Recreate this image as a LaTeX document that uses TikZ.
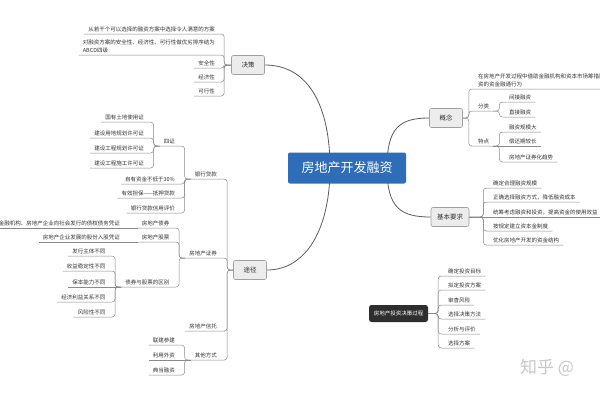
\documentclass[tikz,border=0pt]{standalone}
\usepackage{fontspec}
\newfontfamily\cjk{Noto Sans CJK SC}
\usepackage{tikz}
\usetikzlibrary{backgrounds}
\definecolor{mapBlue}{HTML}{2F6DB8}
\definecolor{mapFill}{HTML}{ECECEC}
\definecolor{mapEdge}{HTML}{A0A0A0}
\definecolor{mapLink}{HTML}{8A8A8A}
\definecolor{mapCurve}{HTML}{5C5C5C}
\definecolor{mapText}{HTML}{333333}
\definecolor{mapDark}{HTML}{2E2E2E}
\definecolor{mapMark}{HTML}{C8C8C8}

\begin{document}
\begin{tikzpicture}[
  x=1pt, y=-1pt,
  font=\cjk,
  leaf/.style={
    text=mapText,
    font=\cjk\fontsize{5.5}{7.5}\selectfont,
    align=left,
    inner xsep=4pt,
    inner ysep=2pt
  },
  lleaf/.style={leaf, anchor=south east},
  rleaf/.style={leaf, anchor=south west},
  topic/.style={
    draw=mapEdge,
    fill=mapFill,
    rounded corners=2pt,
    line width=0.6pt,
    text=mapText,
    font=\cjk\fontsize{6.5}{8}\selectfont,
    inner xsep=6pt,
    minimum width=33pt,
    minimum height=19pt
  },
  central/.style={
    fill=mapBlue,
    rounded corners=2pt,
    text=white,
    font=\cjk\fontsize{13}{15}\selectfont,
    minimum width=118pt,
    minimum height=31pt
  },
  darktopic/.style={
    fill=mapDark,
    rounded corners=2.5pt,
    text=white,
    font=\cjk\fontsize{5.5}{7}\selectfont,
    minimum width=59pt,
    minimum height=17pt
  },
  link/.style={draw=mapLink, line width=0.5pt, rounded corners=3pt},
  branch/.style={draw=mapCurve, line width=0.8pt},
  watermark/.style={text=mapMark, font=\cjk\fontsize{17}{19}\selectfont, anchor=west, inner sep=0pt}
]
\useasboundingbox (0,0) rectangle (600,400);

% main topics
\node[central] (core) at (347,168) {房地产开发融资};
\node[topic] (decide) at (248,65) {决策};
\node[topic] (route) at (250,270) {途径};
\node[topic] (concept) at (446,118) {概念};
\node[topic] (basics) at (450,217) {基本要求};
\node[darktopic] (process) at (398.5,313.5) {房地产投资决策过程};

% 决策
\node[lleaf] (dec1) at (219,34) {从若干个可以选择的融资方案中选择令人满意的方案};
\node[lleaf] (dec2) at (219,55) {对融资方案的安全性、经济性、可行性做优劣排序结为\\ABCD四级};
\node[lleaf] (dec3) at (219,68) {安全性};
\node[lleaf] (dec4) at (219,82) {经济性};
\node[lleaf] (dec5) at (219,96) {可行性};

% 途径
\node[lleaf] (loan) at (221,179) {银行贷款};
\node[lleaf] (cert) at (179,146) {四证};
\node[lleaf] (cert1) at (148,122) {国有土地使用证};
\node[lleaf] (cert2) at (148,138) {建设用地规划许可证};
\node[lleaf] (cert3) at (148,153) {建设工程规划许可证};
\node[lleaf] (cert4) at (148,168) {建设工程施工许可证};
\node[lleaf] (own) at (179,184) {自有资金不低于30\%};
\node[lleaf] (guar) at (179,198) {有效担保——抵押贷款};
\node[lleaf] (credit) at (179,213) {银行贷款信用评价};
\node[lleaf] (sec) at (221,258) {房地产证券};
\node[lleaf] (bond) at (173.5,228) {房地产债券};
\node[lleaf] (bonddef) at (124,228) {金融机构、房地产企业向社会发行的债权债务凭证};
\node[lleaf] (stock) at (173.5,242) {房地产股票};
\node[lleaf] (stockdef) at (124,242) {房地产企业发展的股份入股凭证};
\node[lleaf] (diff) at (173.5,287) {债券与股票的区别};
\node[lleaf] (diff1) at (109.5,256) {发行主体不同};
\node[lleaf] (diff2) at (109.5,271) {收益稳定性不同};
\node[lleaf] (diff3) at (109.5,287) {保本能力不同};
\node[lleaf] (diff4) at (109.5,302) {经济利益关系不同};
\node[lleaf] (diff5) at (109.5,317) {风险性不同};
\node[lleaf] (trust) at (221,331) {房地产信托};
\node[lleaf] (other) at (221,360) {其他方式};
\node[lleaf] (oth1) at (179,345) {联建参建};
\node[lleaf] (oth2) at (179,360) {利用外资};
\node[lleaf] (oth3) at (179,375) {典当融资};

% 概念
\node[rleaf] (def) at (474,89) {在房地产开发过程中借助金融机构和资本市场筹措融\\资的资金融通行为};
\node[rleaf] (cls) at (474,111) {分类};
\node[rleaf] (cls1) at (505,102) {间接融资};
\node[rleaf] (cls2) at (505,117) {直接融资};
\node[rleaf] (feat) at (474,146) {特点};
\node[rleaf] (feat1) at (505,132) {融资规模大};
\node[rleaf] (feat2) at (505,146) {偿还期较长};
\node[rleaf] (feat3) at (505,162) {房地产证券化趋势};

% 基本要求
\node[rleaf] (req1) at (489,188) {确定合理融资规模};
\node[rleaf] (req2) at (489,202) {正确选择融资方式，降低融资成本};
\node[rleaf] (req3) at (489,217) {统筹考虑融资和投资，提高资金的使用效益};
\node[rleaf] (req4) at (489,231) {按规定建立资本金制度};
\node[rleaf] (req5) at (489,245) {优化房地产开发的资金结构};

% 房地产投资决策过程
\node[rleaf] (proc1) at (444,276) {确定投资目标};
\node[rleaf] (proc2) at (444,290) {拟定投资方案};
\node[rleaf] (proc3) at (444,305) {审查风险};
\node[rleaf] (proc4) at (444,319) {选择决策方法};
\node[rleaf] (proc5) at (444,334) {分析与评价};
\node[rleaf] (proc6) at (444,348) {选择方案};

\node[watermark] (zhihu) at (520,368) {知乎 @};

% connectors
\draw[link] (decide.west) -- ++(-7,0) |- (dec1.south west);
\draw[link] (decide.west) -- ++(-7,0) |- (dec2.south west);
\draw[link] (decide.west) -- ++(-7,0) |- (dec3.south west);
\draw[link] (decide.west) -- ++(-7,0) |- (dec4.south west);
\draw[link] (decide.west) -- ++(-7,0) |- (dec5.south west);

\draw[link] (route.west) -- ++(-6,0) |- (loan.south west);
\draw[link] (route.west) -- ++(-6,0) |- (sec.south west);
\draw[link] (route.west) -- ++(-6,0) |- (trust.south west);
\draw[link] (route.west) -- ++(-6,0) |- (other.south west);

\draw[link] (loan.south west) -- ++(-6,0) |- (cert.south west);
\draw[link] (loan.south west) -- ++(-6,0) |- (own.south west);
\draw[link] (loan.south west) -- ++(-6,0) |- (guar.south west);
\draw[link] (loan.south west) -- ++(-6,0) |- (credit.south west);
\draw[link] (cert.south west) -- ++(-6,0) |- (cert1.south west);
\draw[link] (cert.south west) -- ++(-6,0) |- (cert2.south west);
\draw[link] (cert.south west) -- ++(-6,0) |- (cert3.south west);
\draw[link] (cert.south west) -- ++(-6,0) |- (cert4.south west);

\draw[link] (sec.south west) -- ++(-6,0) |- (bond.south west);
\draw[link] (sec.south west) -- ++(-6,0) |- (stock.south west);
\draw[link] (sec.south west) -- ++(-6,0) |- (diff.south west);
\draw[link] (bond.south west) -- (bonddef.south west);
\draw[link] (stock.south west) -- (stockdef.south west);
\draw[link] (diff.south west) -- ++(-6,0) |- (diff1.south west);
\draw[link] (diff.south west) -- ++(-6,0) |- (diff2.south west);
\draw[link] (diff.south west) -- (diff3.south west);
\draw[link] (diff.south west) -- ++(-6,0) |- (diff4.south west);
\draw[link] (diff.south west) -- ++(-6,0) |- (diff5.south west);

\draw[link] (other.south west) -- ++(-6,0) |- (oth1.south west);
\draw[link] (other.south west) -- (oth2.south west);
\draw[link] (other.south west) -- ++(-6,0) |- (oth3.south west);

\draw[link] (concept.east) -- ++(6,0) |- (def.south east);
\draw[link] (concept.east) -- ++(6,0) |- (cls.south east);
\draw[link] (concept.east) -- ++(6,0) |- (feat.south east);
\draw[link] (cls.south east) -- ++(6,0) |- (cls1.south east);
\draw[link] (cls.south east) -- ++(6,0) |- (cls2.south east);
\draw[link] (feat.south east) -- ++(6,0) |- (feat1.south east);
\draw[link] (feat.south east) -- (feat2.south east);
\draw[link] (feat.south east) -- ++(6,0) |- (feat3.south east);

\draw[link] (basics.east) -- ++(14,0) |- (req1.south east);
\draw[link] (basics.east) -- ++(14,0) |- (req2.south east);
\draw[link] (basics.east) -- (req3.south east);
\draw[link] (basics.east) -- ++(14,0) |- (req4.south east);
\draw[link] (basics.east) -- ++(14,0) |- (req5.south east);

\draw[link] (process.east) -- ++(10,0) |- (proc1.south east);
\draw[link] (process.east) -- ++(10,0) |- (proc2.south east);
\draw[link] (process.east) -- ++(10,0) |- (proc3.south east);
\draw[link] (process.east) -- ++(10,0) |- (proc4.south east);
\draw[link] (process.east) -- ++(10,0) |- (proc5.south east);
\draw[link] (process.east) -- ++(10,0) |- (proc6.south east);

\begin{scope}[on background layer]
  \fill[white] (0,0) rectangle (600,400);
  \draw[branch] ([xshift=40pt]core.center) .. controls +(0,-40) and +(-30,0) .. (concept.west);
  \draw[branch] ([xshift=40pt]core.center) .. controls +(0,40) and +(-30,0) .. (basics.west);
  \draw[branch] ([xshift=-17pt]core.center) .. controls +(0,-60) and +(45,0) .. (decide.east);
  \draw[branch] ([xshift=-17pt]core.center) .. controls +(0,60) and +(40,0) .. (route.east);
\end{scope}
\end{tikzpicture}
\end{document}
